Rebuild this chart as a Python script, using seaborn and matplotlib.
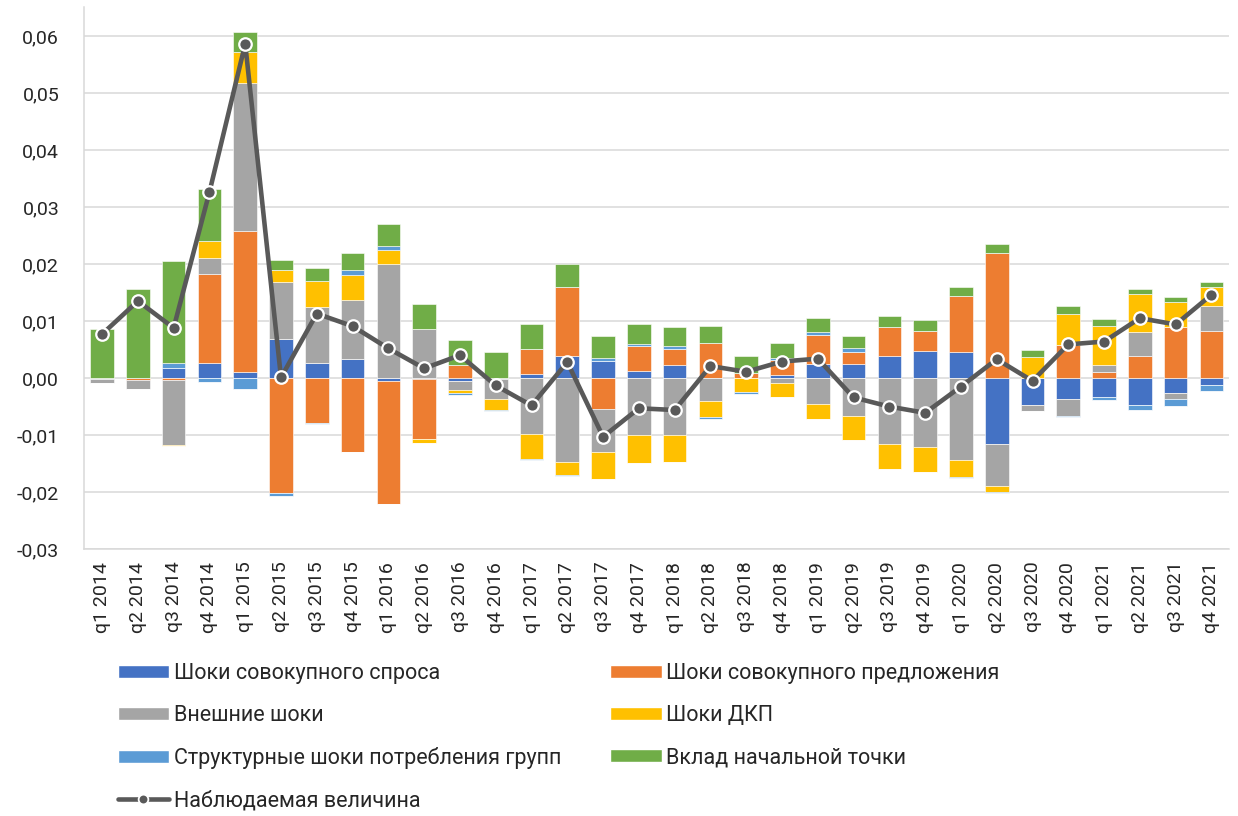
import numpy as np
import pandas as pd
import seaborn as sns
import matplotlib.pyplot as plt
from matplotlib.patches import Patch
from matplotlib.lines import Line2D
from matplotlib.ticker import FuncFormatter, MultipleLocator

# 1. DATA
quarters = [f'q{q} {y}' for y in range(2014, 2022) for q in range(1, 5)]

demand = [-0.0002, 0.0, 0.00175, 0.0027, 0.001, 0.0069, 0.0026, 0.0034, -0.0006, -0.0002, -0.0006, -0.0002,
          0.0008, 0.0038, 0.003, 0.0012, 0.0023, 0.0, 0.0, 0.0006, 0.0024, 0.0025, 0.0038, 0.0047,
          0.0045, -0.0115, -0.0047, -0.0037, -0.0033, -0.0047, -0.0027, -0.0012]
supply = [0.0, -0.0004, -0.0004, 0.0156, 0.0247, -0.0201, -0.0078, -0.013, -0.0214, -0.0105, 0.0023, 0.0,
          0.0043, 0.0121, -0.0055, 0.0044, 0.0028, 0.0062, 0.0009, 0.0026, 0.0051, 0.0021, 0.0051, 0.0036,
          0.0099, 0.0219, 0.0, 0.0058, 0.001, 0.0038, 0.009, 0.0083]
external = [-0.0007, -0.0016, -0.0114, 0.0027, 0.026, 0.0099, 0.0098, 0.0102, 0.02, 0.0086, -0.0015, -0.0035,
            -0.0098, -0.0148, -0.0074, -0.01, -0.01, -0.004, 0.0, -0.0008, -0.0046, -0.0066, -0.0115, -0.0121,
            -0.0143, -0.0075, -0.001, -0.003, 0.0013, 0.0043, -0.001, 0.0044]
monetary = [0.0, 0.0, -0.0001, 0.003, 0.0054, 0.0021, 0.0047, 0.0045, 0.0024, -0.0006, -0.0006, -0.0019,
            -0.0044, -0.0022, -0.0048, -0.0049, -0.0047, -0.0029, -0.0025, -0.0026, -0.0025, -0.0042, -0.0045, -0.0043,
            -0.0031, -0.0009, 0.0037, 0.0055, 0.0068, 0.0066, 0.0044, 0.0032]
structural = [0.0, 0.0, 0.0009, -0.00075, -0.002, -0.0006, -0.0003, 0.0008, 0.00075, 0.0, -0.0002, -0.0002,
              -0.0001, -0.0001, 0.0005, 0.0004, 0.0005, -0.0003, -0.0003, 0.0004, 0.0006, 0.0006, 0.0, 0.0,
              -0.0002, -0.0003, 0.0, -0.0002, -0.0006, -0.0009, -0.0012, -0.001]
initial = [0.0086, 0.0156, 0.0178, 0.0092, 0.0035, 0.0018, 0.0022, 0.0031, 0.0039, 0.0044, 0.0044, 0.0045,
           0.0043, 0.0041, 0.0039, 0.0035, 0.0034, 0.0029, 0.003, 0.0026, 0.0024, 0.0022, 0.0019, 0.0018,
           0.0016, 0.0016, 0.0013, 0.0013, 0.0012, 0.001, 0.0009, 0.0009]
observed = [0.0077, 0.0135, 0.0088, 0.0326, 0.0586, 0.0001, 0.0113, 0.0091, 0.0052, 0.0017, 0.004, -0.0013,
            -0.0048, 0.0028, -0.0103, -0.0053, -0.0056, 0.0021, 0.0011, 0.0029, 0.0034, -0.0034, -0.005, -0.0061,
            -0.0015, 0.0033, -0.0005, 0.0059, 0.0064, 0.0105, 0.0094, 0.0146]

series_names = ['Шоки совокупного спроса', 'Шоки совокупного предложения', 'Внешние шоки',
                'Шоки ДКП', 'Структурные шоки потребления групп', 'Вклад начальной точки']
series_values = [demand, supply, external, monetary, structural, initial]
colors = ['#4472C4', '#ED7D31', '#A5A5A5', '#FFC000', '#5B9BD5', '#70AD47']
line_name = 'Наблюдаемая величина'

df = pd.DataFrame(dict(zip(series_names, series_values)), index=quarters)
df_line = pd.DataFrame({'x': np.arange(len(quarters)), 'y': observed})

# 2. PLOTTING
sns.set_theme(style='white')
plt.rcParams['font.family'] = ['Roboto', 'DejaVu Sans']

fig = plt.figure(figsize=(12.38, 8.16), dpi=100)
ax = fig.add_axes([0.068, 0.327, 0.925, 0.664])

x = np.arange(len(quarters))
pos_bottom = np.zeros(len(quarters))
neg_bottom = np.zeros(len(quarters))
for name, col in zip(series_names, colors):
    vals = df[name].values
    pos = np.where(vals > 0, vals, 0)
    neg = np.where(vals < 0, vals, 0)
    ax.bar(x, pos, bottom=pos_bottom, width=0.66, color=col, edgecolor='white', linewidth=0.4, zorder=2)
    ax.bar(x, neg, bottom=neg_bottom, width=0.66, color=col, edgecolor='white', linewidth=0.4, zorder=2)
    pos_bottom += pos
    neg_bottom += neg

sns.lineplot(data=df_line, x='x', y='y', ax=ax, color='#595959', linewidth=3.3, marker='o',
             markersize=9, markerfacecolor='#595959', markeredgecolor='white', markeredgewidth=1.6,
             zorder=3, legend=False)

ax.set_xlim(-0.5, len(quarters) - 0.5)
ax.set_ylim(-0.03, 0.065)
ax.yaxis.set_major_locator(MultipleLocator(0.01))
ax.yaxis.set_major_formatter(FuncFormatter(lambda v, p: f'{v:.2f}'.replace('.', ',').replace('-0,00', '0,00')))
ax.grid(axis='y', color='#D9D9D9', linewidth=1.1, zorder=0)
ax.set_axisbelow(True)

ax.set_xticks(x)
ax.set_xticklabels(quarters, rotation=90, fontsize=14)
ax.set_xticks(np.arange(-0.5, len(quarters)), minor=True)
ax.tick_params(axis='x', which='major', length=0, pad=9)
ax.tick_params(axis='x', which='minor', direction='in', length=5, color='#D9D9D9', width=1.1)
ax.tick_params(axis='y', length=0, labelsize=14, pad=18)
ax.set_xlabel('')
ax.set_ylabel('')

for s in ['top', 'right']:
    ax.spines[s].set_visible(False)
for s in ['left', 'bottom']:
    ax.spines[s].set_color('#D9D9D9')
    ax.spines[s].set_linewidth(1.1)

# 3. LEGEND (two columns below the plot)
patches = [Patch(facecolor=c, label=n) for n, c in zip(series_names, colors)]
line_handle = Line2D([0], [0], color='#595959', linewidth=3.3, marker='o', markersize=7,
                     markerfacecolor='#595959', markeredgecolor='white', markeredgewidth=1.3, label=line_name)
handles = [patches[0], patches[2], patches[4], line_handle, patches[1], patches[3], patches[5]]
fig.legend(handles=handles, loc='upper left', bbox_to_anchor=(0.088, 0.198), ncol=2, frameon=False,
           fontsize=15.5, handlelength=2.4, handleheight=0.5, handletextpad=0.2, labelspacing=0.98,
           columnspacing=2.3, borderaxespad=0)

plt.savefig('out.png', dpi=100)
